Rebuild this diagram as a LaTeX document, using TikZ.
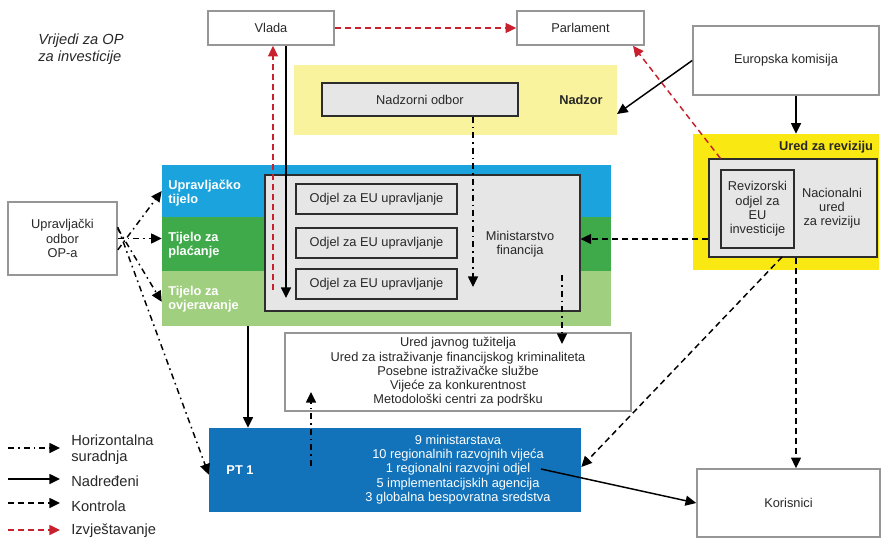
\documentclass[tikz,border=0pt]{standalone}
\usepackage{fontspec}
\setmainfont{Liberation Sans}
\usetikzlibrary{arrows.meta}

\begin{document}
\begin{tikzpicture}[x=0.75pt,y=0.75pt,yscale=-1,xscale=1,
  every node/.style={font=\fontsize{9.6}{10.7}\selectfont, text={rgb, 255:red, 40; green, 40; blue, 40 }, inner sep=0pt, align=center},
  whitebox/.style={draw={rgb, 255:red, 150; green, 150; blue, 150 }, line width=1.2pt, fill=white},
  graybox/.style={draw={rgb, 255:red, 45; green, 45; blue, 45 }, line width=0.8pt, fill={rgb, 255:red, 231; green, 230; blue, 230 }},
  band/.style={minimum width=336.75pt},
  boldlabel/.style={font=\fontsize{9.6}{10.7}\selectfont\bfseries},
  bandlabel/.style={font=\fontsize{9.6}{10.7}\selectfont\bfseries, text=white, anchor=west, align=left},
  legendtext/.style={font=\fontsize{11}{11.8}\selectfont, anchor=west, align=left},
  tip/.style={-{Triangle[length=8pt,width=7.5pt]}},
  nadredjeni/.style={tip, draw=black, line width=1.1pt},
  kontrola/.style={tip, draw=black, line width=1.1pt, dash pattern=on 4.5pt off 3pt},
  horiz/.style={tip, draw=black, line width=1.1pt, dash pattern=on 4.5pt off 3pt on 1.2pt off 3pt},
  izvjest/.style={tip, draw={rgb, 255:red, 200; green, 32; blue, 45 }, line width=1.1pt, dash pattern=on 4.5pt off 3pt}]
\useasboundingbox (0,0) rectangle (881,539); %set diagram left start at 0, and has height of 539

% coloured areas
\node (nadzor) [fill={rgb, 255:red, 249; green, 243; blue, 157 }, minimum width=242.25pt, minimum height=52.5pt] at (455.5,100) {};
\node (revizija) [fill={rgb, 255:red, 250; green, 232; blue, 18 }, minimum width=139.5pt, minimum height=102pt] at (786,202) {};
\node (upravljacko) [band, fill={rgb, 255:red, 27; green, 163; blue, 221 }, minimum height=39pt] at (386.5,191) {};
\node (placanje) [band, fill={rgb, 255:red, 62; green, 170; blue, 73 }, minimum height=40.5pt] at (386.5,244) {};
\node (ovjeravanje) [band, fill={rgb, 255:red, 160; green, 207; blue, 127 }, minimum height=41.25pt] at (386.5,298.5) {};
\node (pt1) [fill={rgb, 255:red, 18; green, 115; blue, 186 }, minimum width=279pt, minimum height=63pt] at (395,470) {};

\node (nadzorlbl) [boldlabel] at (581,100) {Nadzor};
\node (revizijalbl) [boldlabel] at (826,147) {Ured za reviziju};
\node (uplbl) [bandlabel] at (168,193) {Upravljačko\\tijelo};
\node (placlbl) [bandlabel] at (168,245) {Tijelo za\\plaćanje};
\node (ovjlbl) [bandlabel] at (168,299) {Tijelo za\\ovjeravanje};
\node (pt1lbl) [boldlabel, text=white] at (240,470) {PT 1};
\node (pt1txt) [text=white] at (458,469.5) {9 ministarstava\\10 regionalnih razvojnih vijeća\\1 regionalni razvojni odjel\\5 implementacijskih agencija\\3 globalna bespovratna sredstva};

% boxes
\node (vlada) [whitebox, minimum width=94.5pt, minimum height=25.5pt] at (271,28) {Vlada};
\node (parlament) [whitebox, minimum width=95.25pt, minimum height=25.5pt] at (580.5,28) {Parlament};
\node (ek) [whitebox, minimum width=139.5pt, minimum height=51.75pt] at (786,60.5) {Europska komisija};
\node (nadzorni) [graybox, minimum width=147pt, minimum height=24.75pt] at (420,99.5) {Nadzorni odbor};
\node (nacionalni) [graybox, minimum width=126pt, minimum height=73.5pt] at (793,208) {};
\node (naclbl) at (832,208) {Nacionalni\\ured\\za reviziju};
\node (revizorski) [graybox, minimum width=54.75pt, minimum height=58.5pt] at (757.5,209) {Revizorski\\odjel za\\EU\\investicije};
\node (odbor) [whitebox, minimum width=81.75pt, minimum height=54.75pt] at (62.5,238.5) {Upravljački\\odbor\\OP-a};
\node (ministarstvo) [graybox, minimum width=236.25pt, minimum height=102pt] at (422.5,243) {};
\node (mflbl) at (520,244) {Ministarstvo\\financija};
\node (odjel1) [graybox, minimum width=120.75pt, minimum height=22.5pt] at (376.5,199) {Odjel za EU upravljanje};
\node (odjel2) [graybox, minimum width=120.75pt, minimum height=22.5pt] at (376.5,243) {Odjel za EU upravljanje};
\node (odjel3) [graybox, minimum width=120.75pt, minimum height=22.5pt] at (376.5,284) {Odjel za EU upravljanje};
\node (ured) [whitebox, minimum width=259.5pt, minimum height=58.5pt] at (458,372) {Ured javnog tužitelja\\Ured za istraživanje financijskog kriminaliteta\\Posebne istraživačke službe\\Vijeće za konkurentnost\\Metodološki centri za podršku};
\node (korisnici) [whitebox, minimum width=137.25pt, minimum height=51pt] at (788.5,503) {Korisnici};

\node (napomena) [font=\fontsize{11}{12.5}\selectfont\itshape, anchor=west, align=left] at (38,49.5) {Vrijedi za OP\\za investicije};

% connectors
\coordinate (nadzorin) at (617,114);
\coordinate (kol) at (796,0);
\coordinate (parlin) at (633,45);
\coordinate (red) at (0,239);
\coordinate (revdiag) at (782,257);
\coordinate (pt1in) at (581,467);
\coordinate (pt1out) at (541,469);
\coordinate (mfin1) at (286,298);
\coordinate (mfin2) at (473,287);
\coordinate (mfout) at (273,290);
\coordinate (mfout2) at (562,275);
\coordinate (uredin) at (562,344);
\coordinate (kol2) at (248,0);
\coordinate (pt1up) at (311,466);
\coordinate (uredin2) at (311,392);

\draw [izvjest] (vlada) -- (parlament);
\draw [nadredjeni] (ek.west) -- (nadzorin);
\draw [nadredjeni] (ek.south -| kol) -- (revizija.north -| kol);
\draw [izvjest] (nacionalni.north -| revizorski.west) -- (parlament.south -| parlin);
\draw [kontrola] (nacionalni.west |- red) -- (ministarstvo.east |- red);
\draw [kontrola] (nacionalni.south -| kol) -- (korisnici.north -| kol);
\draw [kontrola] (revdiag) -- (pt1.east |- pt1in);
\draw [nadredjeni] (pt1out) -- (korisnici.west);

\draw [horiz] (nadzorni.south -| mfin2) -- (mfin2);
\draw [nadredjeni] (vlada.south -| mfin1) -- (mfin1);
\draw [izvjest] (mfout) -- (vlada.south -| mfout);
\draw [horiz] (mfout2) -- (uredin);
\draw [nadredjeni] (ovjeravanje.south -| kol2) -- (pt1.north -| kol2);
\draw [horiz] (pt1up) -- (uredin2);

\draw [horiz] ([yshift=8.5pt]odbor.east) -- (upravljacko.west);
\draw [horiz] (odbor.east) -- (odbor.east -| placanje.west);
\draw [horiz] ([yshift=-7.5pt]odbor.east) -- ([yshift=2.5pt]ovjeravanje.west);
\draw [horiz] ([yshift=-8.5pt]odbor.east) -- ([yshift=3.5pt]pt1.west);

% legend
\node (lhoriz) [legendtext] at (71,450) {Horizontalna\\suradnja};
\node (lnadr) [legendtext] at (71,481) {Nadređeni};
\node (lkontr) [legendtext] at (71,506) {Kontrola};
\node (lizvj) [legendtext] at (71,531) {Izvještavanje};
\coordinate (lh) at (8,448);
\coordinate (ln) at (8,479);
\coordinate (lk) at (8,503);
\coordinate (li) at (8,530);
\draw [horiz, shorten >=8.25pt] (lh) -- (lh -| lhoriz.west);
\draw [nadredjeni, shorten >=8.25pt] (ln) -- (ln -| lnadr.west);
\draw [kontrola, shorten >=8.25pt] (lk) -- (lk -| lkontr.west);
\draw [izvjest, shorten >=8.25pt] (li) -- (li -| lizvj.west);

\end{tikzpicture}
\end{document}
